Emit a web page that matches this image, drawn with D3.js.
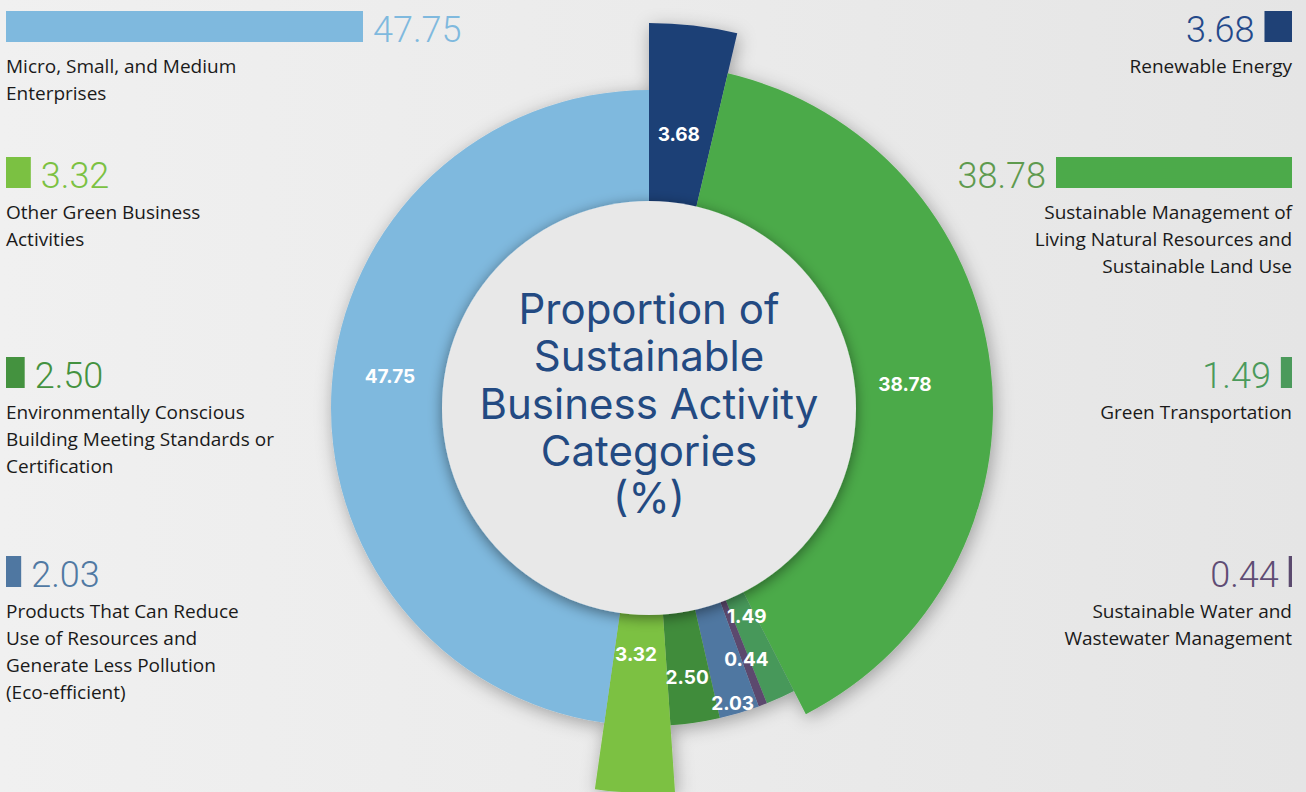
<!DOCTYPE html>
<html><head><meta charset="utf-8">
<script src="https://cdn.jsdelivr.net/npm/d3@7"></script>
<style>html,body{margin:0;padding:0;overflow:hidden;background:#ebebeb}</style>
</head><body>
<svg id="chart" width="1306" height="792"></svg>
<script>
// ---- data ----
const categories = [
  "Renewable Energy",
  "Sustainable Management of Living Natural Resources and Sustainable Land Use",
  "Green Transportation",
  "Sustainable Water and Wastewater Management",
  "Products That Can Reduce Use of Resources and Generate Less Pollution (Eco-efficient)",
  "Environmentally Conscious Building Meeting Standards or Certification",
  "Other Green Business Activities",
  "Micro, Small, and Medium Enterprises"
];
const values = [3.68, 38.78, 1.49, 0.44, 2.03, 2.50, 3.32, 47.75];
const valueLabels = ["3.68", "38.78", "1.49", "0.44", "2.03", "2.50", "3.32", "47.75"];
const legendLines = [
  ["Renewable Energy"],
  ["Sustainable Management of", "Living Natural Resources and", "Sustainable Land Use"],
  ["Green Transportation"],
  ["Sustainable Water and", "Wastewater Management"],
  ["Products That Can Reduce", "Use of Resources and", "Generate Less Pollution", "(Eco-efficient)"],
  ["Environmentally Conscious", "Building Meeting Standards or", "Certification"],
  ["Other Green Business", "Activities"],
  ["Micro, Small, and Medium", "Enterprises"]
];
const titleLines = ["Proportion of", "Sustainable", "Business Activity", "Categories", "(%)"];

// ---- styles / layout ----
const sliceColors  = ["#1f4176", "#4caa4a", "#47985a", "#5b4a6e", "#4f77a1", "#3f8c3a", "#7bc142", "#7fb9de"];
const barColors    = ["#1f4176", "#4caa4a", "#4b9a5b", "#5b4a6e", "#4f77a1", "#44923f", "#7bc142", "#7fb9de"];
const numberColors = ["#24498a", "#5e9a4e", "#4b9a5b", "#5f4c74", "#5079a3", "#44923f", "#7bc142", "#7fb9de"];
const outerRadii   = [385, 344, 318, 318, 318, 318, 385, 318];
const labelRadii   = [275, 257, 230, 270, 307, 272, 247, 261];
const labelNudge   = [-0.4, 1.8, -0.7, -0.2, 0.7, 0.3, 0.9, 3.0]; // degrees
const legendColumn = ["right","right","right","right","left","left","left","left"];
const legendRow    = [0, 1, 2, 3, 3, 2, 1, 0];
const rowTops      = [11, 157, 357, 556];

const W = 1306, H = 792;
const cx = 649, cy = 408, innerR = 200, coverR = 207;

const svg = d3.select("#chart");
const defs = svg.append("defs");

const bg = defs.append("linearGradient").attr("id","bg").attr("x1","0").attr("y1","0").attr("x2","1").attr("y2","0");
bg.append("stop").attr("offset","0").attr("stop-color","#f0f0f0");
bg.append("stop").attr("offset","0.5").attr("stop-color","#ebebeb");
bg.append("stop").attr("offset","1").attr("stop-color","#e5e5e5");

const sh = defs.append("filter").attr("id","shadow").attr("x","-30%").attr("y","-30%").attr("width","160%").attr("height","160%");
sh.append("feDropShadow").attr("dx",2).attr("dy",4).attr("stdDeviation",9).attr("flood-color","#000").attr("flood-opacity",0.32);

const sh2 = defs.append("filter").attr("id","shadow2").attr("x","-30%").attr("y","-30%").attr("width","160%").attr("height","160%");
sh2.append("feDropShadow").attr("dx",0).attr("dy",3).attr("stdDeviation",7).attr("flood-color","#000").attr("flood-opacity",0.45);

svg.append("rect").attr("width",W).attr("height",H).attr("fill","url(#bg)");

// ---- pie ----
const pie = d3.pie().sort(null).value(d => d).startAngle(0).endAngle(2*Math.PI);
const arcs = pie(values);
const arc = d3.arc().innerRadius(innerR).outerRadius(d => outerRadii[d.index]);

const g = svg.append("g").attr("transform", `translate(${cx},${cy})`);
g.append("g").attr("filter","url(#shadow)")
  .selectAll("path").data(arcs).join("path")
  .attr("d", arc)
  .attr("fill", d => sliceColors[d.index]);

// center disc
g.append("circle").attr("r", coverR).attr("fill","#e8e8e8").attr("filter","url(#shadow2)");

// slice labels
g.selectAll("text.slice").data(arcs).join("text")
  .attr("class","slice")
  .attr("transform", d => {
    const a = (d.startAngle + d.endAngle)/2 + labelNudge[d.index]*Math.PI/180;
    const r = labelRadii[d.index];
    return `translate(${r*Math.sin(a)},${-r*Math.cos(a)})`;
  })
  .attr("text-anchor","middle").attr("dominant-baseline","central")
  .attr("font-family","Inter, 'Open Sans', sans-serif").attr("font-weight",700).attr("font-size",19)
  .attr("fill","#fff")
  .text(d => valueLabels[d.index]);

// title
g.append("text")
  .attr("text-anchor","middle")
  .attr("font-family","Inter, 'Noto Sans', sans-serif").attr("font-size",42).attr("fill","#234a82")
  .selectAll("tspan").data(titleLines).join("tspan")
  .attr("x",0).attr("y",(d,i) => -84 + i*47.3)
  .text(d => d);

// ---- legend ----
const barScale = d3.scaleLinear().domain([0, d3.max(values)]).range([0, 357]);
const maxBar = {left: 357, right: 236};
const barH = 31, leftX = 6, rightX = 1292;

values.forEach((v, i) => {
  const col = legendColumn[i];
  const top = rowTops[legendRow[i]];
  const w = Math.max(3, Math.min(barScale(v), maxBar[col]));
  const lg = svg.append("g");
  const bx = col === "left" ? leftX : rightX - w;
  lg.append("rect").attr("x", bx).attr("y", top).attr("width", w).attr("height", barH).attr("fill", barColors[i]);
  lg.append("text")
    .attr("x", col === "left" ? bx + w + 10 : bx - 10)
    .attr("y", top + barH)
    .attr("text-anchor", col === "left" ? "start" : "end")
    .attr("font-family","Roboto, Lato, sans-serif").attr("font-weight",300).attr("font-size",36)
    .attr("fill", numberColors[i])
    .text(valueLabels[i]);
  lg.append("text")
    .attr("text-anchor", col === "left" ? "start" : "end")
    .attr("font-family","'Open Sans', 'Noto Sans', sans-serif").attr("font-size",19).attr("fill","#1a1a1a")
    .selectAll("tspan").data(legendLines[i]).join("tspan")
    .attr("x", col === "left" ? leftX : rightX)
    .attr("y", (d,k) => top + barH + 31 + k*27)
    .text(d => d);
});
</script>
</body></html>
